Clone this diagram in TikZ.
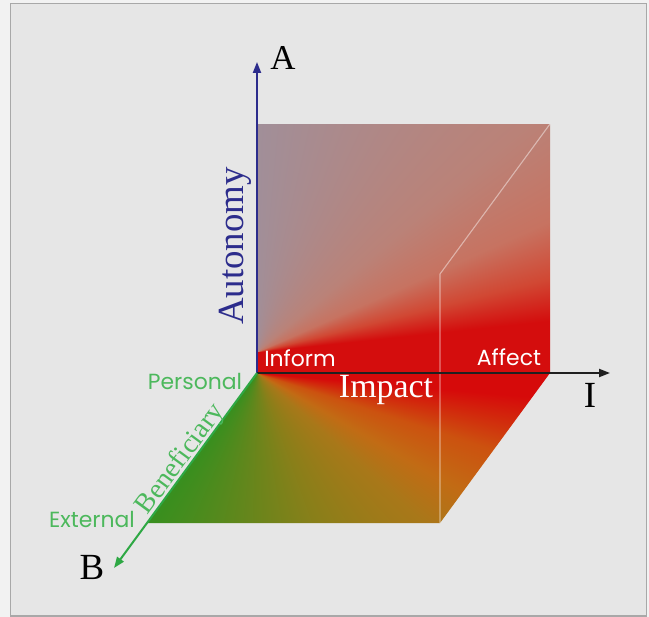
\documentclass[tikz,border=0pt]{standalone}
\usepackage{fontspec}
\setmainfont{Liberation Serif}
\newfontfamily\labsans{Poppins}
\usetikzlibrary{arrows.meta}
\definecolor{bgout}{HTML}{F2F2F2}
\definecolor{bgin}{HTML}{E6E6E6}
\definecolor{framec}{HTML}{A8A8A8}
\definecolor{navy}{HTML}{2C2C8C}
\definecolor{axgreen}{HTML}{2EA844}
\definecolor{txgreen}{HTML}{4CB85C}
\definecolor{axblack}{HTML}{202020}
% vertical face: conical colour field centred at image (257,352)
\pgfdeclarefunctionalshading{vface}{\pgfpoint{0bp}{0bp}}{\pgfpoint{293bp}{249bp}}{}{
  21 sub exch 0.3 add atan
  dup 180 gt {pop 0} if
  dup 90 gt {pop 90} if
  dup 6 le {pop 0.83 0.05 0.05}
  {dup 14 le {6 sub 8 div dup -0.01 mul 0.83 add exch dup 0.23 mul 0.05 add exch 0.15 mul 0.05 add}
   {dup 24 le {14 sub 10 div dup -0.04 mul 0.82 add exch dup 0.17 mul 0.28 add exch 0.18 mul 0.20 add}
    {dup 40 le {24 sub 16 div dup -0.05 mul 0.78 add exch dup 0.06 mul 0.45 add exch 0.09 mul 0.38 add}
     {40 sub 50 div dup -0.10 mul 0.73 add exch dup 0.05 mul 0.51 add exch 0.13 mul 0.47 add} ifelse} ifelse} ifelse} ifelse
}
% floor: conical colour field centred at the origin
\pgfdeclarefunctionalshading{floorsh}{\pgfpoint{0bp}{0bp}}{\pgfpoint{420bp}{152bp}}{}{
  152 exch sub exch 117.3 sub atan
  dup 270 gt {pop 0} if
  dup 126 gt {pop 126} if
  dup 5 le {pop 0.84 0.04 0.04}
  {dup 18 le {5 sub 13 div dup -0.04 mul 0.84 add exch dup 0.28 mul 0.04 add exch 0.02 mul 0.04 add}
   {dup 30 le {18 sub 12 div dup -0.04 mul 0.80 add exch dup 0.10 mul 0.32 add exch 0.02 mul 0.06 add}
    {dup 42 le {30 sub 12 div dup -0.10 mul 0.76 add exch dup 0.05 mul 0.42 add exch 0.02 mul 0.08 add}
     {dup 70 le {42 sub 28 div dup -0.13 mul 0.66 add exch dup 0.03 mul 0.47 add exch 0.00 mul 0.10 add}
      {70 sub 56 div dup -0.31 mul 0.53 add exch dup 0.06 mul 0.50 add exch 0.02 mul 0.10 add} ifelse} ifelse} ifelse} ifelse} ifelse
}
\tikzset{
  axisline/.style={line width=2bp,-{Triangle[length=11bp,width=8bp]}},
  cubeedge/.style={white, opacity=0.45, line width=1.1bp},
  bigserif/.style={inner sep=0pt, font=\fontsize{35}{35}\selectfont},
  sanslab/.style={inner sep=0pt, font=\labsans\fontsize{22}{22}\selectfont},
  shadebox/.style={inner sep=0pt, outer sep=0pt, anchor=south west}
}
\begin{document}
\begin{tikzpicture}[x=1bp,y=-1bp]
\useasboundingbox (0,0) rectangle (649,617);
\fill[bgout] (0,0) rectangle (649,617);
\draw[framec, fill=bgin, line width=1.5bp] (10.5,3.5) rectangle (646.5,616);
% named points
\coordinate (O) at (257,373);
\coordinate (Atip) at (257,62);
\coordinate (Itip) at (610,373);
\coordinate (Btip) at (114,568);
\coordinate (FR) at (550,373);
\coordinate (TR) at (550,124);
\coordinate (FBR) at (440,523);
\coordinate (FBL) at (147,523);
\coordinate (EM) at (440,274);
% vertical face
\begin{scope}
\clip (O) rectangle (TR);
\node[shadebox] (vf) at (O) {\pgfuseshading{vface}};
\end{scope}
% floor
\begin{scope}
\clip (O) -- (FR) -- (FBR) -- (FBL) -- cycle;
\node[shadebox] (fl) at (140,525) {\pgfuseshading{floorsh}};
\end{scope}
% cube edge
\draw[cubeedge] (TR) -- (EM) -- (FBR);
% axes
\draw[axisline, navy] (O) -- (Atip);
\draw[axisline, axblack] (O) -- (Itip);
\draw[axisline, axgreen] (O) -- (Btip);
% labels
\node[bigserif] (lA) at (283,58) {A};
\node[bigserif, font=\fontsize{37}{37}\selectfont] (lI) at (590,395) {I};
\node[bigserif, font=\fontsize{37}{37}\selectfont] (lB) at (92,567) {B};
\node[bigserif, navy, rotate=90, font=\fontsize{37}{37}\selectfont] (lAut) at (235,246) {Autonomy};
\node[bigserif, white, font=\fontsize{34}{34}\selectfont] (lImp) at (386,390) {Impact};
\node[inner sep=0pt, anchor=base, txgreen, rotate=53.7, font=\fontsize{28}{28}\selectfont] (lBen) at (186.5,463.5) {Beneficiary};
\node[sanslab, white] (lInf) at (300,358) {Inform};
\node[sanslab, white] (lAff) at (509,357) {Affect};
\node[sanslab, txgreen] (lPer) at (195,381) {Personal};
\node[sanslab, txgreen] (lExt) at (92,519) {External};
\end{tikzpicture}
\end{document}
